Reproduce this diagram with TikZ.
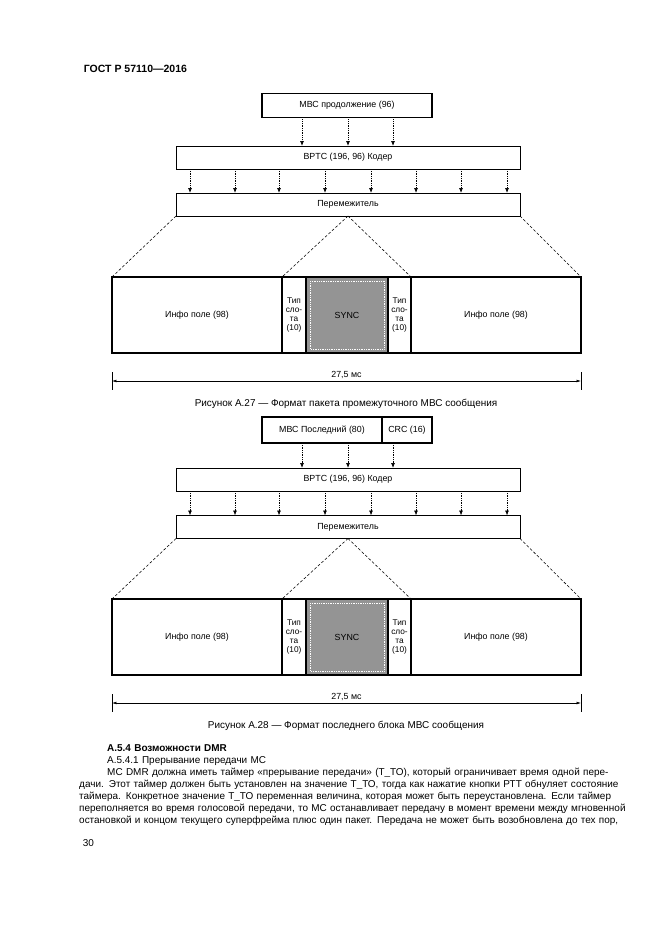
\documentclass[tikz,border=0pt]{standalone}
\usepackage{fontspec}
\setmainfont{Liberation Sans}
\usepackage{tikz}
\usetikzlibrary{positioning,arrows.meta}

\newlength{\pxl}
\setlength{\pxl}{0.3177mm}

\begin{document}
\begin{tikzpicture}[
    x=0.3177mm, y=-0.3177mm,
    node distance=0pt,
    box/.style={
        draw,
        line width=0.7pt,
        inner sep=0pt,
        outer sep=0pt,
        align=center,
        minimum width=344\pxl,
        minimum height=23\pxl,
        font=\fontsize{8}{9}\selectfont
    },
    topbox/.style={
        box,
        line width=1.2pt,
        minimum height=24\pxl
    },
    field/.style={
        draw,
        line width=1.1pt,
        inner sep=0pt,
        outer sep=0pt,
        align=center,
        minimum height=76\pxl,
        font=\fontsize{8}{9}\selectfont
    },
    slotfield/.style={
        field,
        minimum width=24\pxl,
        font=\fontsize{7.5}{8.2}\selectfont
    },
    syncfield/.style={field, fill=black!42, minimum width=82\pxl},
    arrow/.style={densely dotted, line width=0.6pt, -{Latex[length=4.5pt,width=3.5pt]}},
    fan/.style={dash pattern=on 2.5pt off 1.8pt, line width=0.5pt},
    tick/.style={line width=0.5pt},
    dim/.style={line width=0.5pt, {Latex[length=4pt,width=2.5pt]}-{Latex[length=4pt,width=2.5pt]}},
    dimtext/.style={font=\fontsize{8}{9}\selectfont, inner sep=2pt},
    bodytext/.style={font=\fontsize{9}{10.8}\selectfont}
]
\fill[white] (0,0) rectangle (661,935);
\useasboundingbox (0,0) rectangle (661,935);

\node[anchor=base west, font=\bfseries\fontsize{9.5}{11}\selectfont] (gost) at (80,73) {ГОСТ Р 57110—2016};

% Figure A.27
\node[topbox, minimum width=170\pxl] (mbcA) at (347,105.5) {МВС продолжение (96)};
\node[box] (bptcA) at (348,157.5) {BPTC (196, 96) Кодер};
\node[box] (ilvA) at (348,204.5) {Перемежитель};

\node[field, minimum width=170\pxl, anchor=north west] (infoAl) at (112,277) {Инфо поле (98)};
\node[slotfield, right=of infoAl] (slotAl) {Тип\\сло-\\та\\(10)};
\node[syncfield, right=of slotAl] (syncA) {SYNC};
\node[slotfield, minimum width=23\pxl, right=of syncA] (slotAr) {Тип\\сло-\\та\\(10)};
\node[field, minimum width=170\pxl, right=of slotAr] (infoAr) {Инфо поле (98)};
\draw[white, densely dotted, line width=0.6pt] ([shift={(4,4)}]syncA.north west) rectangle ([shift={(-4,-4)}]syncA.south east);

\foreach \xa in {302,348,393}
    \draw[arrow] (\xa,0 |- mbcA.south) -- (\xa,0 |- bptcA.north);
\foreach \xa in {190,235,279,325,371,416,461,507}
    \draw[arrow] (\xa,0 |- bptcA.south) -- (\xa,0 |- ilvA.north);

\draw[fan] (ilvA.south west) -- (infoAl.north west);
\draw[fan] (ilvA.south) -- (slotAl.north west);
\draw[fan] (ilvA.south) -- (slotAr.north east);
\draw[fan] (ilvA.south east) -- (infoAr.north east);

\coordinate[below=28\pxl of infoAl.south west] (dimAl);
\coordinate[below=28\pxl of infoAr.south east] (dimAr);
\draw[tick] (dimAl) ++(0,-9) -- ++(0,18);
\draw[tick] (dimAr) ++(0,-9) -- ++(0,18);
\draw[dim] (dimAl) -- node[above, dimtext] (durA) {27,5 мс} (dimAr);

\node[bodytext] (capA) at (346,404) {Рисунок А.27 — Формат пакета промежуточного МВС сообщения};

% Figure A.28
\node[topbox, minimum width=120\pxl, minimum height=26\pxl] (mbcB) at (322,430) {МВС Последний (80)};
\node[topbox, minimum width=50\pxl, minimum height=26\pxl, right=of mbcB] (crcB) {CRC (16)};
\node[box] (bptcB) at (348,479.5) {BPTC (196, 96) Кодер};
\node[box] (ilvB) at (348,527) {Перемежитель};

\node[field, minimum width=170\pxl, anchor=north west] (infoBl) at (112,599) {Инфо поле (98)};
\node[slotfield, right=of infoBl] (slotBl) {Тип\\сло-\\та\\(10)};
\node[syncfield, right=of slotBl] (syncB) {SYNC};
\node[slotfield, minimum width=23\pxl, right=of syncB] (slotBr) {Тип\\сло-\\та\\(10)};
\node[field, minimum width=170\pxl, right=of slotBr] (infoBr) {Инфо поле (98)};
\draw[white, densely dotted, line width=0.6pt] ([shift={(4,4)}]syncB.north west) rectangle ([shift={(-4,-4)}]syncB.south east);

\foreach \xa in {302,348,393}
    \draw[arrow] (\xa,0 |- mbcB.south) -- (\xa,0 |- bptcB.north);
\foreach \xa in {190,235,279,325,371,416,461,507}
    \draw[arrow] (\xa,0 |- bptcB.south) -- (\xa,0 |- ilvB.north);

\draw[fan] (ilvB.south west) -- (infoBl.north west);
\draw[fan] (ilvB.south) -- (slotBl.north west);
\draw[fan] (ilvB.south) -- (slotBr.north east);
\draw[fan] (ilvB.south east) -- (infoBr.north east);

\coordinate[below=28\pxl of infoBl.south west] (dimBl);
\coordinate[below=28\pxl of infoBr.south east] (dimBr);
\draw[tick] (dimBl) ++(0,-9) -- ++(0,18);
\draw[tick] (dimBr) ++(0,-9) -- ++(0,18);
\draw[dim] (dimBl) -- node[above, dimtext] (durB) {27,5 мс} (dimBr);

\node[bodytext] (capB) at (346,726) {Рисунок А.28 — Формат последнего блока МВС сообщения};

% text below
\node[bodytext, anchor=base west, inner sep=0pt, text width=533\pxl, align=left] (body) at (79,751.5) {%
\hspace*{28\pxl}\textbf{А.5.4 Возможности DMR}\\
\hspace*{28\pxl}А.5.4.1 Прерывание передачи МС\\
\makebox[533\pxl][s]{\hspace*{28\pxl}МС DMR должна иметь таймер «прерывание передачи» (Т\_ТО), который ограничивает время одной пере-}\\
\makebox[533\pxl][s]{дачи. Этот таймер должен быть установлен на значение Т\_ТО, тогда как нажатие кнопки РТТ обнуляет состояние}\\
\makebox[533\pxl][s]{таймера. Конкретное значение Т\_ТО переменная величина, которая может быть переустановлена. Если таймер}\\
\makebox[533\pxl][s]{переполняется во время голосовой передачи, то МС останавливает передачу в момент времени между мгновенной}\\
\makebox[533\pxl][s]{остановкой и концом текущего суперфрейма плюс один пакет. Передача не может быть возобновлена до тех пор,}};

\node[bodytext, anchor=base west] (pagenum) at (79,846) {30};

\end{tikzpicture}
\end{document}
